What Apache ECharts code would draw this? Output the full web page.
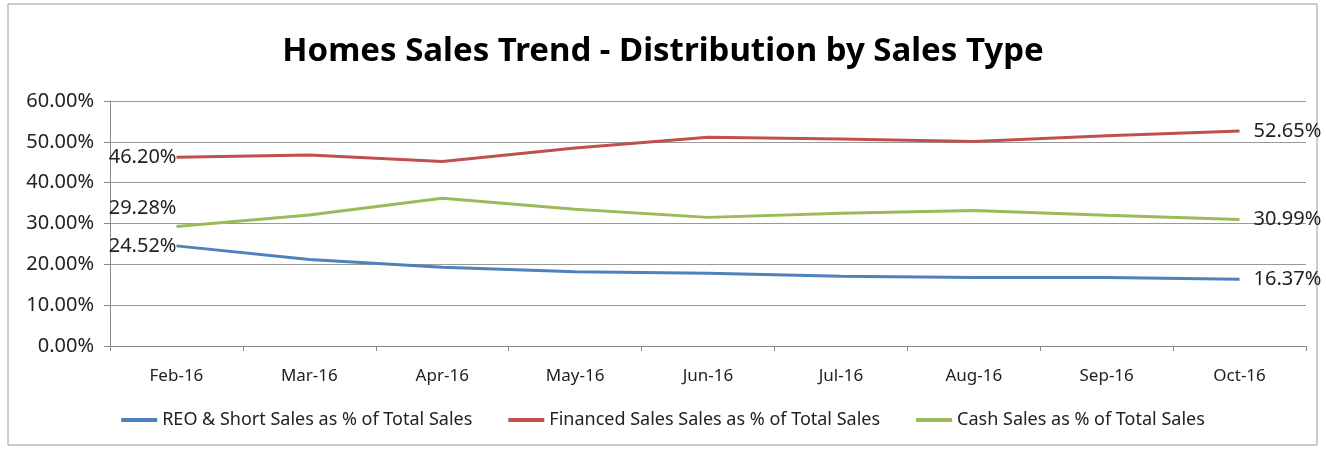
<!DOCTYPE html>
<html>
<head>
<meta charset="utf-8">
<script src="https://cdn.jsdelivr.net/npm/echarts@6/dist/echarts.min.js"></script>
<style>
html,body{margin:0;padding:0;background:#fff;}
#chart{width:1326px;height:450px;}
</style>
</head>
<body>
<div id="chart"></div>
<script>
const categories = ['Feb-16','Mar-16','Apr-16','May-16','Jun-16','Jul-16','Aug-16','Sep-16','Oct-16'];
const reoShort = [24.52, 21.2, 19.3, 18.2, 17.8, 17.1, 16.8, 16.8, 16.37];
const financed = [46.20, 46.8, 45.2, 48.5, 51.1, 50.7, 50.1, 51.5, 52.65];
const cash = [29.28, 32.1, 36.2, 33.5, 31.5, 32.5, 33.2, 32.0, 30.99];
const seriesNames = ['REO & Short Sales as % of Total Sales','Financed Sales Sales as % of Total Sales','Cash Sales as % of Total Sales'];
const yTicks = [0, 10, 20, 30, 40, 50, 60];

const FONT = '"Noto Sans", "Open Sans", sans-serif';
const chart = echarts.init(document.getElementById('chart'));

function makeSeries(name, data, color, firstOffset){
  return {
    name: name, type: 'line',
    data: data.map((v, i) => {
      const item = { value: v };
      if (i === 0) item.label = { show: true, position: 'left', distance: 0, offset: firstOffset };
      else if (i === data.length - 1) item.label = { show: true, position: 'right', distance: 14 };
      return item;
    }),
    symbol: 'circle', symbolSize: 0, showSymbol: true,
    lineStyle: { color: color, width: 3 },
    itemStyle: { color: color },
    label: { show: false, formatter: p => p.value.toFixed(2) + '%', color: '#222', fontSize: 20, fontFamily: FONT },
    emphasis: { disabled: true }
  };
}

chart.setOption({
  animation: false,
  backgroundColor: '#fff',
  title: {
    text: 'Homes Sales Trend - Distribution by Sales Type',
    left: 'center', top: 30,
    textStyle: { fontFamily: FONT, fontWeight: 'bold', fontSize: 33, color: '#000' }
  },
  graphic: [{ type: 'rect', shape: { x: 8, y: 4, width: 1309, height: 441 }, style: { fill: 'none', stroke: '#9a9a9a', lineWidth: 1 }, silent: true }],
  legend: {
    bottom: 16, left: 'center',
    itemGap: 36, itemWidth: 36, itemHeight: 4,
    icon: 'rect',
    textStyle: { fontFamily: FONT, fontSize: 18, color: '#222' },
    data: seriesNames
  },
  grid: { left: 110, right: 20, top: 101, bottom: 104, containLabel: false },
  xAxis: {
    type: 'category', data: categories, boundaryGap: true,
    axisLine: { lineStyle: { color: '#888' } },
    axisTick: { show: true, length: 5, lineStyle: { color: '#888' } },
    axisLabel: { fontFamily: FONT, fontSize: 17, color: '#222', margin: 22 }
  },
  yAxis: {
    type: 'value', min: 0, max: 60, interval: 10,
    axisLine: { show: true, lineStyle: { color: '#888' } },
    axisTick: { show: true, length: 6, lineStyle: { color: '#888' } },
    axisLabel: { fontFamily: FONT, fontSize: 20, color: '#222', margin: 16, formatter: v => yTicks.includes(v) ? v.toFixed(2) + '%' : '' },
    splitLine: { lineStyle: { color: '#999', width: 1 } }
  },
  series: [
    makeSeries(seriesNames[0], reoShort, '#4F81BD', [0, 0]),
    makeSeries(seriesNames[1], financed, '#C0504D', [0, 0]),
    makeSeries(seriesNames[2], cash, '#9BBB59', [0, -18])
  ]
});
</script>
</body>
</html>
